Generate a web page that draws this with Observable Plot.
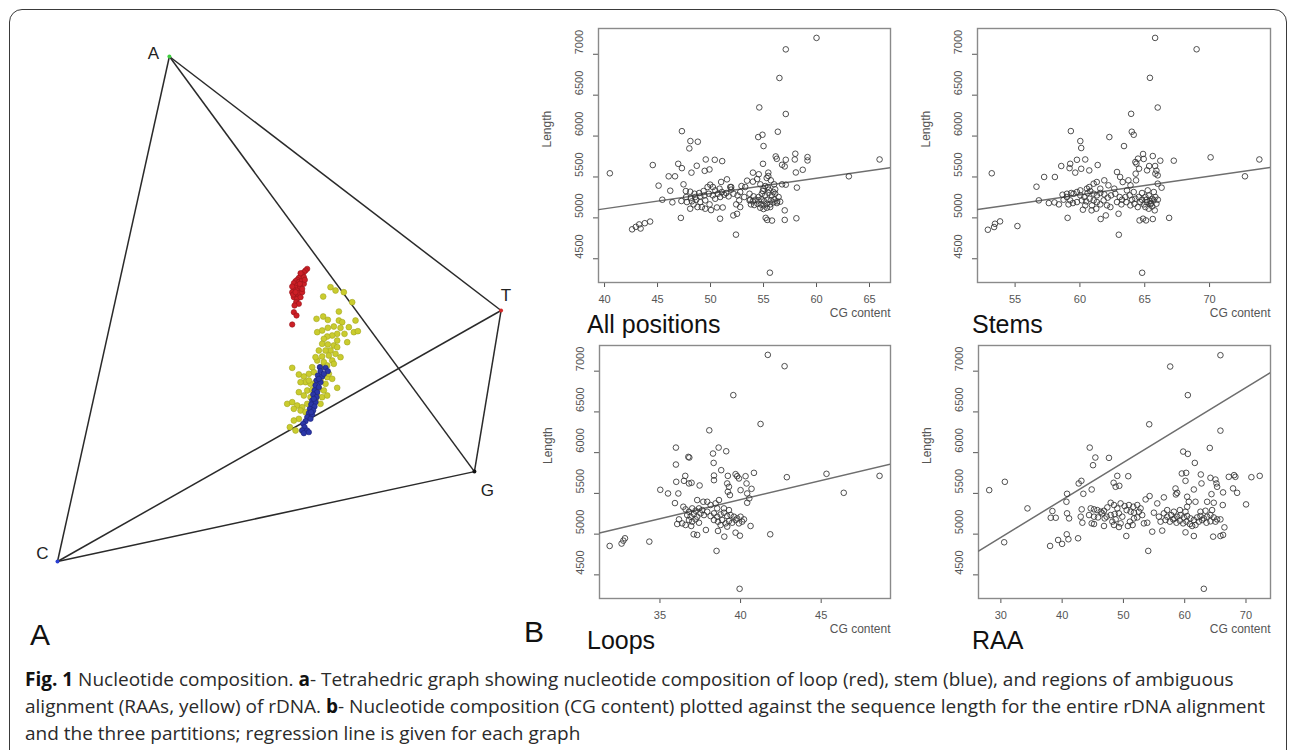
<!DOCTYPE html>
<html><head><meta charset="utf-8">
<script src="https://cdn.jsdelivr.net/npm/d3@7"></script>
<script src="https://cdn.jsdelivr.net/npm/@observablehq/plot@0.6"></script>
<style>
html,body{margin:0;padding:0;background:#fff;}
body{width:1292px;height:750px;overflow:hidden;position:relative;font-family:"Liberation Sans",Arial,sans-serif;}
#border{position:absolute;left:9px;top:9px;width:1278px;height:800px;border:1.5px solid #3a3a3a;border-radius:13px;box-sizing:border-box;}
.slot{position:absolute;}
.ttl{position:absolute;font-size:25px;line-height:25px;color:#111;white-space:nowrap;}
.lab{position:absolute;font-size:30px;line-height:30px;color:#111;}
#caption{position:absolute;left:25px;top:666px;font-family:"Open Sans",Lato,sans-serif;font-size:19px;line-height:27px;color:#2a2a2a;white-space:nowrap;}
#caption b{font-weight:700;color:#111;}
</style>
</head><body>
<div id="border"></div>
<div id="pA" class="slot" style="left:0;top:0"></div>
<div id="p1" class="slot" style="left:520px;top:0"></div>
<div id="p2" class="slot" style="left:900px;top:0"></div>
<div id="p3" class="slot" style="left:520px;top:320px"></div>
<div id="p4" class="slot" style="left:900px;top:320px"></div>
<div class="ttl" style="left:587px;top:312px">All positions</div>
<div class="ttl" style="left:972px;top:312px">Stems</div>
<div class="ttl" style="left:587px;top:628px">Loops</div>
<div class="ttl" style="left:972px;top:628px">RAA</div>
<div class="lab" style="left:30px;top:620px">A</div>
<div class="lab" style="left:524px;top:617px">B</div>
<div id="caption">
<div><b>Fig. 1</b> Nucleotide composition. <b>a</b>- Tetrahedric graph showing nucleotide composition of loop (red), stem (blue), and regions of ambiguous</div>
<div>alignment (RAAs, yellow) of rDNA. <b>b</b>- Nucleotide composition (CG content) plotted against the sequence length for the entire rDNA alignment</div>
<div>and the three partitions; regression line is given for each graph</div>
</div>
<script>
// ---------- Panel A: tetrahedron (projected coordinates) ----------
const tetraLabels = ["A", "T", "G", "C"];
const tetraU = [25.2, 99.9, 93.9, 0];
const tetraV = [100, 49.7, 17.8, 0];
const tetraColors = ["#3fcf3f", "#d42a2a", "#111111", "#2a3fd0"];
const tetraEdges = [["A","C"],["A","T"],["A","G"],["T","G"],["G","C"],["C","T"]];

// loop (red)
const loopPts = [[56.24,57.95],[55.86,57.62],[55.49,57.29],[55.11,56.83],[54.74,56.43],[54.36,56.17],[53.98,55.77],[53.61,55.51],[53.23,55.11],[54.36,55.31],[55.11,55.64],[55.49,56.30],[53.98,54.65],[53.61,54.19],[53.23,53.79],[52.86,53.33],[53.98,53.66],[54.74,54.32],[54.36,53.13],[53.61,52.67],[53.23,52.34],[53.98,52.01],[54.74,52.34],[55.11,53.33],[55.49,54.98],[52.86,54.45],[53.08,52.87],[53.76,51.35],[54.36,51.02],[53.38,50.69],[53.23,49.37],[53.83,48.71],[52.86,46.93],[54.74,57.09],[55.71,55.77],[54.59,54.98],[55.11,53.99],[53.61,53.33]];
// regions of ambiguous alignment (yellow)
const raaPts = [[61.49,54.32],[62.62,53.66],[64.49,53.33],[59.84,52.47],[66.37,51.35],[63.37,49.50],[58.34,48.05],[59.84,48.51],[60.89,47.85],[63.37,47.72],[64.12,47.39],[67.12,47.72],[58.49,45.41],[59.61,45.74],[60.89,46.27],[62.24,46.53],[63.74,46.27],[64.64,45.08],[65.62,46.40],[66.75,45.41],[67.65,45.61],[65.25,43.43],[62.99,45.08],[61.87,44.75],[60.74,44.55],[59.99,44.09],[59.61,43.10],[60.89,42.97],[62.24,42.77],[62.99,43.76],[61.49,41.78],[60.37,41.78],[62.62,41.12],[61.12,40.79],[59.61,40.59],[61.87,39.80],[59.99,39.47],[59.24,38.48],[60.74,38.81],[62.24,39.14],[52.86,38.35],[54.36,37.03],[55.49,36.63],[56.61,37.16],[57.74,37.49],[55.86,35.51],[54.74,35.51],[56.99,35.18],[58.11,35.51],[59.24,35.84],[60.74,36.50],[61.87,36.17],[60.37,35.18],[62.99,34.39],[56.24,33.86],[57.36,33.99],[58.86,34.19],[59.99,33.86],[54.36,33.53],[55.49,32.87],[56.99,32.54],[58.49,32.87],[59.61,32.54],[60.74,32.87],[51.73,31.22],[52.86,31.55],[53.98,30.89],[55.11,30.56],[56.24,31.22],[53.23,30.23],[54.74,29.90],[55.86,29.57],[57.36,30.03],[52.33,26.60],[53.61,25.94],[55.11,25.94],[58.49,39.80],[62.99,42.44],[63.74,40.46],[61.12,37.16],[58.86,41.78],[58.11,40.46],[57.36,38.48],[56.61,35.84],[58.11,31.88],[59.24,31.22],[56.61,28.58],[54.36,28.25],[53.23,27.92]];
// stem (blue)
const stemPts = [[59.09,38.48],[60.37,38.35],[60.89,37.69],[59.24,37.69],[58.64,36.83],[59.61,36.63],[58.34,35.84],[59.24,35.51],[58.11,34.85],[58.86,34.52],[57.89,33.86],[58.49,33.53],[57.59,33.07],[58.34,32.54],[57.36,31.88],[58.11,31.55],[57.14,31.09],[57.89,30.69],[56.84,30.23],[57.59,29.90],[56.61,29.37],[57.36,29.11],[56.24,28.58],[56.99,28.25],[55.86,27.79],[55.34,27.26],[55.64,26.60],[55.11,25.94],[56.24,25.94],[55.49,25.41],[56.61,25.61],[59.99,37.16],[57.74,32.21],[58.86,36.17],[57.14,29.57]];

// ---------- Panel B: CG content vs Length ----------
const lengthTicks = [4500, 5000, 5500, 6000, 6500, 7000];
const lengthDomain = [4210, 7315];

const allTicks = [40, 45, 50, 55, 60, 65];
const allDomain = [39.43, 66.98];
const allRegression = [4365, 18.66]; // intercept, slope
const allPts = [[40.5,5545],[60.0,7200],[57.1,7060],[56.5,6710],[54.6,6350],[57.1,6270],[47.3,6060],[54.5,5988],[54.9,6016],[56.35,6053],[48.1,5939],[48.8,5931],[48.0,5849],[55.0,5878],[44.55,5646],[46.95,5661],[47.3,5608],[48.7,5637],[48.2,5553],[49.55,5714],[49.45,5575],[49.9,5592],[50.4,5710],[51.1,5694],[54.95,5661],[56.15,5751],[56.25,5722],[57.1,5710],[56.75,5649],[57.0,5629],[58.0,5784],[57.95,5714],[59.15,5743],[59.15,5702],[58.7,5588],[58.05,5555],[65.95,5714],[63.05,5508],[45.1,5394],[46.05,5508],[46.65,5508],[47.45,5410],[46.2,5332],[45.45,5222],[46.4,5190],[47.25,5206],[47.2,5000],[42.6,4860],[42.95,4890],[43.27,4920],[43.4,4870],[43.8,4935],[44.3,4955],[52.4,4795],[55.6,4330],[50.9,4990],[50.05,5095],[50.6,5127],[51.15,5127],[52.15,5030],[52.5,5050],[55.2,5000],[55.35,4975],[55.8,4967],[57.0,4975],[58.1,4995],[57.0,5092],[58.15,5370],[56.75,5410],[57.1,5406],[51.0,5439],[51.55,5471],[50.85,5357],[53.45,5455],[54.0,5553],[54.0,5443],[54.4,5475],[54.55,5533],[55.45,5553],[55.45,5512],[55.3,5488],[54.7,5410],[55.0,5357],[55.4,5378],[56.0,5410],[56.1,5349],[51.95,5345],
[47.67,5328],[48.08,5320],[48.49,5295],[48.93,5304],[49.34,5328],[49.72,5377],[49.97,5406],[50.22,5377],[50.44,5336],[47.70,5255],[48.14,5242],[48.55,5255],[49.03,5263],[49.43,5275],[49.84,5295],[50.22,5275],[50.69,5295],[51.07,5316],[51.48,5304],[51.86,5377],[47.77,5193],[48.24,5202],[48.65,5222],[49.03,5193],[49.50,5214],[49.18,5132],[48.77,5132],[48.40,5165],[49.50,5112],[49.91,5165],[50.44,5234],[50.91,5255],[51.29,5283],[51.70,5263],[51.95,5377],[52.17,5295],[52.55,5275],[52.80,5316],[52.92,5389],[53.27,5377],[53.18,5255],[53.68,5295],[53.74,5222],[52.70,5214],[52.42,5165],[52.80,5132],[48.08,5112],
[53.68,5214],[53.99,5202],[54.25,5222],[54.53,5214],[54.81,5226],[55.06,5202],[55.38,5222],[55.69,5214],[56.01,5226],[56.29,5202],[56.57,5198],[53.81,5165],[54.12,5157],[54.43,5173],[54.75,5165],[55.00,5153],[55.31,5173],[55.63,5165],[55.94,5189],[56.26,5181],[54.69,5124],[55.00,5108],[55.31,5124],[55.63,5132],[54.53,5255],[55.16,5275],[55.79,5275],[54.84,5295],[55.47,5304],[56.10,5295],[56.42,5255],[54.06,5263],[54.94,5328],[55.50,5344],[55.94,5316],[55.16,5389],[55.69,5459]];

const stemTicks = [55, 60, 65, 70];
const stemDomain = [52.1, 74.7];
const stemRegression = [3911, 22.84];
const stemCgPts = [[53.2,5545],[65.8,7200],[69.0,7061],[65.4,6712],[66.0,6349],[63.95,6272],[59.3,6061],[60.03,5939],[60.1,5854],[62.27,5988],[64.0,6053],[64.15,6016],[63.4,5878],[58.56,5634],[59.25,5661],[59.2,5608],[59.77,5710],[60.41,5714],[60.1,5600],[59.64,5553],[60.72,5580],[61.37,5646],
[64.87,5781],[65.62,5756],[64.48,5724],[64.92,5720],[64.36,5663],[65.34,5634],[65.8,5634],[66.2,5699],[65.9,5577],[65.82,5540],[64.56,5601],[64.3,5540],[65.18,5581],[66.0,5520],[66.0,5418],[66.3,5369],[64.33,5459],[64.28,5683],
[67.24,5699],[66.88,5000],[70.08,5740],[72.73,5508],[73.84,5714],[52.9,4855],[53.38,4888],[53.45,4928],[53.84,4957],[55.18,4900],[56.65,5381],[56.83,5214],[57.24,5500],[57.6,5181],[58.04,5189],[58.07,5500],[58.38,5165],[59.05,5000],[63.0,4794],[64.8,4329],[61.6,4986],[62.0,5030],[62.98,5050],[64.6,4969],[64.87,4990],[65.1,4969],[65.62,4986],[65.77,5092],[60.23,5100],[60.9,5092],[61.26,5112],[58.66,5283],[59.0,5295],[59.33,5304],[60.72,5377],[61.06,5418],[61.3,5438],[61.88,5459],[62.2,5398],[62.86,5561],[63.1,5500],[63.3,5438],[63.74,5459],[63.9,5398],
[58.74,5222],[58.99,5255],[59.25,5214],[59.51,5295],[59.77,5316],[60.03,5275],[60.34,5255],[60.59,5304],[60.80,5328],[61.06,5295],[61.31,5275],[61.57,5304],[61.88,5287],[62.14,5247],[62.40,5275],[59.12,5165],[59.46,5181],[59.77,5193],[60.15,5214],[60.49,5202],[60.75,5234],[61.06,5214],[61.31,5193],[61.57,5165],[61.83,5214],[62.09,5153],[62.35,5132],[60.41,5153],[60.93,5153],[60.03,5336],[60.54,5357],[61.57,5357],[62.65,5357],
[62.73,5295],[63.07,5255],[63.25,5222],[63.51,5255],[63.84,5275],[64.02,5222],[64.28,5234],[64.54,5255],[64.79,5222],[65.05,5255],[65.31,5275],[65.57,5234],[65.82,5255],[66.01,5222],[62.86,5193],[63.20,5165],[63.58,5193],[63.89,5153],[64.20,5173],[64.46,5132],[64.66,5193],[64.92,5165],[65.18,5193],[65.44,5165],[65.70,5214],[65.90,5173],[65.05,5132],[65.31,5112],[65.57,5140],[64.79,5304],[65.23,5336],[65.70,5316],[64.15,5316],[63.63,5336],[65.39,5206],[65.13,5222],[65.49,5181]];

const loopTicks = [35, 40, 45];
const loopDomain = [31.25, 49.3];
const loopRegression = [3548, 46.88];
const loopCgPts = [[41.69,7200],[42.73,7061],[39.55,6706],[41.24,6352],[38.06,6274],[38.64,6062],[39.11,6017],[35.99,6062],[38.29,5989],[36.76,5948],[36.82,5940],[35.99,5854],[38.33,5874],[38.8,5785],[36.01,5642],[36.57,5715],[36.49,5654],[36.8,5622],[36.96,5630],[37.46,5597],[38.35,5719],[38.35,5662],[39.21,5715],[39.69,5736],[39.79,5711],[39.17,5622],[39.9,5683],[40.31,5711],[40.83,5752],[40.37,5622],[40.68,5556],[40.41,5499],[40.54,5438],[40.41,5385],[40.0,5540],[39.28,5581],[39.21,5520],[39.34,5479],[42.87,5699],[45.33,5740],[46.4,5507],[48.62,5715],[35.02,5544],[35.5,5499],[36.14,5499],[35.93,5381],[36.45,5336],[40.62,5100],[41.84,4998],[31.88,4855],[32.62,4884],[32.73,4920],[32.83,4949],[34.34,4908],[38.51,4794],[39.94,4329],[37.09,4998],[37.31,4990],[37.85,5051],[38.6,5039],[38.99,4969],[39.69,5018],[39.96,4981],[36.18,5181],[36.07,5124],[36.38,5132],
[36.59,5304],[36.80,5275],[37.00,5316],[37.21,5287],[37.42,5316],[37.62,5295],[36.69,5234],[36.90,5214],[37.11,5246],[37.31,5214],[37.52,5255],[37.73,5234],[36.80,5173],[37.00,5153],[37.21,5181],[37.42,5140],[36.59,5112],[36.94,5100],[37.93,5275],[38.14,5222],[38.35,5255],[38.55,5214],[38.76,5242],[38.97,5263],[39.17,5222],[39.38,5234],[39.59,5214],[39.79,5193],[40.00,5214],[40.21,5181],[38.35,5173],[38.60,5153],[38.86,5173],[39.07,5132],[39.28,5161],[39.48,5140],[39.69,5173],[39.90,5132],[40.10,5153],[38.76,5112],[39.17,5092],[38.14,5357],[38.45,5377],[38.66,5418],[37.93,5397],[37.69,5397],[37.31,5418],[38.55,5316],[38.97,5316],[39.28,5295]];

const raaTicks = [30, 40, 50, 60, 70];
const raaDomain = [26.35, 74.0];
const raaRegression = [3580, 46.0];
const raaCgPts = [[28.1,5540],[30.65,5642],[30.54,4900],[34.34,5316],[65.83,7196],[57.63,7057],[60.51,6706],[54.21,6348],[65.83,6270],[44.5,6062],[64.09,6058],[59.75,6013],[60.51,5985],[45.42,5940],[47.64,5936],[45.04,5846],[61.65,5874],[43.14,5654],[42.7,5622],[49.0,5715],[50.79,5711],[48.4,5630],[48.73,5581],[49.33,5593],[44.82,5548],[43.46,5495],[40.8,5495],[40.7,5397],[40.8,5255],[38.41,5283],[38.14,5201],[38.96,5201],[38.03,4855],[39.34,4928],[39.99,4880],[40.75,4998],[41.02,4937],[42.6,4949],[41.13,5193],[43.19,5304],[43.03,5214],[43.3,5140],[44.82,5132],[59.53,5744],[60.24,5752],[60.13,5654],[62.63,5732],[64.2,5691],[65.02,5670],[65.18,5622],[65.29,5581],[62.74,5622],[64.37,5491],[66.26,5512],[63.66,5397],[64.74,5385],[66.21,5357],[61.76,5397],[61.49,5548],[67.19,5703],[68.06,5724],[68.27,5703],[67.89,5561],[68.55,5507],[70.01,5365],[70.88,5699],[72.24,5715],[58.5,5560],[58.77,5507],[58.56,5487],[60.4,5459],[60.67,5397],[60.4,5336],[60.13,5022],[61.49,4977],[64.64,4969],[65.83,4977],[66.26,4990],[66.48,5083],[63.12,4329],[54.05,4794],[50.47,4977],[54.7,5030],[56.33,5043],[49.27,5087],[50.73,5100],[51.5,5112],[46.83,5100],[45.2,5124],[53.62,5426],[54.27,5467],[56.6,5451],[55.52,5377],[54.97,5263],[53.89,5140],[53.34,5132],[52.26,5205],
[44.66,5316],[45.20,5304],[45.74,5295],[46.29,5275],[46.83,5287],[47.37,5328],[47.92,5385],[48.46,5357],[49.00,5316],[49.54,5377],[50.20,5344],[50.90,5357],[51.61,5336],[52.26,5357],[52.80,5316],[44.39,5234],[45.20,5214],[45.85,5205],[46.56,5255],[47.26,5214],[47.92,5234],[48.57,5246],[49.27,5255],[49.82,5214],[50.52,5295],[51.17,5275],[51.72,5263],[52.53,5275],[53.07,5234],[48.19,5153],[48.73,5181],[48.46,5112],[49.54,5132],[51.72,5193],[51.06,5153],[46.94,5193],
[56.60,5255],[57.14,5214],[57.80,5234],[58.34,5193],[58.77,5214],[59.32,5234],[59.86,5205],[60.40,5222],[60.94,5193],[61.49,5173],[62.03,5205],[62.57,5222],[63.12,5193],[63.66,5214],[64.20,5234],[64.74,5205],[65.29,5181],[65.83,5181],[56.87,5173],[57.58,5153],[58.12,5181],[58.66,5140],[59.21,5165],[59.75,5132],[60.29,5153],[60.84,5124],[61.22,5100],[61.76,5112],[62.30,5153],[62.84,5173],[63.55,5140],[64.20,5157],[65.02,5153],[58.23,5275],[59.21,5295],[60.13,5275],[62.57,5275],[63.39,5287],[64.47,5295],[55.79,5214],[56.06,5153],[57.14,5295]];

// ---------- build Panel A ----------
const vert = tetraLabels.map((l, i) => ({l, u: tetraU[i], v: tetraV[i], c: tetraColors[i]}));
const V = Object.fromEntries(vert.map(d => [d.l, d]));
const edges = tetraEdges.map(([a, b]) => ({x1: V[a].u, y1: V[a].v, x2: V[b].u, y2: V[b].v}));
const labelShift = {A: [-16, -3], T: [5, -15], G: [13, 19], C: [-15, -8]};

const plotA = Plot.plot({
  width: 520, height: 640,
  marginLeft: 57, marginRight: 19, marginTop: 56, marginBottom: 79,
  x: {domain: [0, 100], axis: null},
  y: {domain: [0, 100], axis: null},
  color: {type: "identity"},
  style: {background: "none", overflow: "visible"},
  marks: [
    Plot.link(edges, {x1: "x1", y1: "y1", x2: "x2", y2: "y2", stroke: "#2a2a2a", strokeWidth: 1.5}),
    Plot.dot(raaPts, {x: d => d[0], y: d => d[1], r: 2.9, fill: "#cacc2e", stroke: "#a3a622", strokeWidth: 0.6}),
    Plot.dot(stemPts, {x: d => d[0], y: d => d[1], r: 2.7, fill: "#2b37a8", stroke: "#1b2278", strokeWidth: 0.6}),
    Plot.dot(loopPts, {x: d => d[0], y: d => d[1], r: 2.7, fill: "#cc1f26", stroke: "#95141a", strokeWidth: 0.6}),
    Plot.dot(vert, {x: "u", y: "v", r: 2, fill: "c"}),
    ...vert.map(d => Plot.text([d], {x: "u", y: "v", text: "l", dx: labelShift[d.l][0], dy: labelShift[d.l][1],
      fontSize: 17, fill: "#222", fontFamily: "Liberation Sans, Arial, sans-serif"}))
  ]
});
document.getElementById("pA").append(plotA);

// ---------- build scatter panels ----------
function scatter(el, pts, xDomain, xTicks, reg, m) {
  const line = xDomain.map(x => [x, reg[0] + reg[1] * x]);
  const p = Plot.plot({
    width: 380, height: 340,
    marginLeft: m[0], marginRight: m[1], marginTop: m[2], marginBottom: m[3],
    x: {domain: xDomain, axis: null},
    y: {domain: lengthDomain, axis: null},
    style: {background: "none", overflow: "visible", fontFamily: "Liberation Sans, Arial, sans-serif"},
    marks: [
      Plot.axisX(xTicks, {tickSize: 5, tickPadding: 8, fontSize: 11, color: "#555", label: null}),
      Plot.axisY(lengthTicks, {tickSize: 5, tickFormat: () => "", color: "#555", label: null}),
      Plot.text(lengthTicks, {y: d => d, text: d => String(d), frameAnchor: "left", dx: -19, rotate: -90, fontSize: 11, fill: "#555"}),
      Plot.text(["Length"], {frameAnchor: "left", dx: -51, dy: -8, rotate: -90, fontSize: 12, fill: "#555"}),
      Plot.text(["CG content"], {frameAnchor: "bottom-right", dy: 31, textAnchor: "end", lineAnchor: "middle", fontSize: 12, fill: "#555"}),
      Plot.frame({stroke: "#8a8a8a", strokeWidth: 1.4}),
      Plot.line(line, {x: d => d[0], y: d => d[1], stroke: "#6e6e6e", strokeWidth: 1.5, clip: true}),
      Plot.dot(pts, {x: d => d[0], y: d => d[1], r: 2.8, stroke: "#333", strokeOpacity: 0.85, strokeWidth: 1, fill: "none"})
    ]
  });
  document.getElementById(el).append(p);
}
scatter("p1", allPts, allDomain, allTicks, allRegression, [78, 10, 28, 58]);
scatter("p2", stemCgPts, stemDomain, stemTicks, stemRegression, [77, 10, 28, 58]);
scatter("p3", loopCgPts, loopDomain, loopTicks, loopRegression, [79, 10, 25, 62]);
scatter("p4", raaCgPts, raaDomain, raaTicks, raaRegression, [78, 10, 25, 62]);
</script>
</body></html>
